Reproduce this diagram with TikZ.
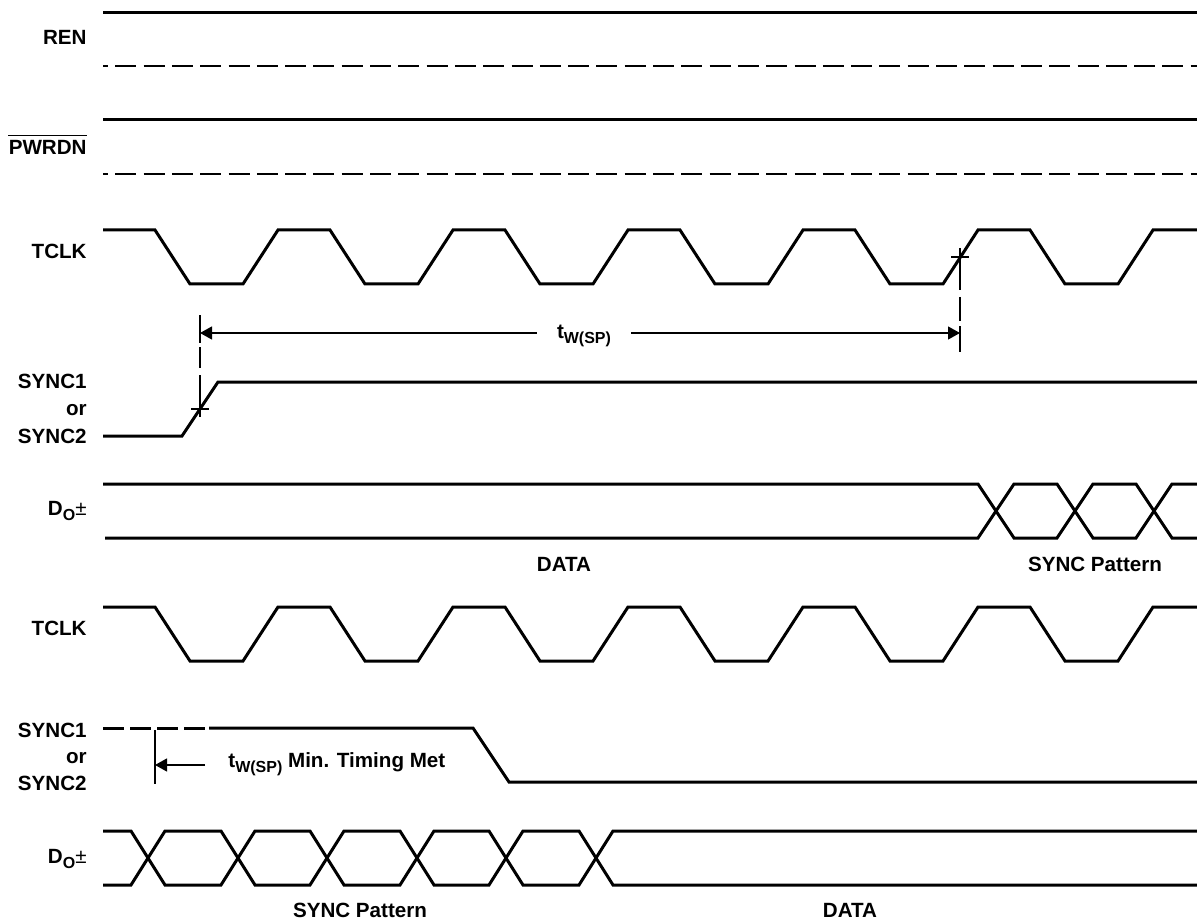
\documentclass[tikz,border=0pt]{standalone}
\usepackage{fontspec}
\setmainfont{Liberation Sans}
\usepackage{tikz}
\usetikzlibrary{arrows.meta}

\newcommand{\sigfont}{\bfseries\fontsize{10.3}{12}\selectfont}
\newcommand{\subtext}[1]{\raisebox{-2.5pt}{\fontsize{8}{9}\selectfont #1}}
\newcommand{\dopm}{D\subtext{O}{\mdseries\fontsize{10.3}{12}\selectfont ±}}

\begin{document}
\begin{tikzpicture}[x=0.5pt, y=-0.5pt,
    wave/.style={line width=1.5pt},
    level/.style={line width=1pt, dash pattern=on 10.5pt off 3.65pt, dash phase=8pt},
    dim/.style={line width=0.6pt},
    tip/.style={-{Triangle[length=6pt,width=6.5pt]}},
    sig/.style={anchor=base east, inner sep=0pt, font=\sigfont},
    note/.style={anchor=base, inner sep=0pt, font=\sigfont}]

    \useasboundingbox (0,0) rectangle (1197,919);

	% Signal names, right aligned against the waveforms
	\node[sig] (ren)     at (87,45)  {REN};
	\node[sig] (pwrdn)   at (87,155) {PWRDN};
	\node[sig] (tclkA)   at (87,259) {TCLK};
	\node[sig] (syncA1)  at (87,388) {SYNC1};
	\node[sig] (syncAor) at (87,415) {or};
	\node[sig] (syncA2)  at (87,443) {SYNC2};
	\node[sig] (doA)     at (87,515) {\dopm};
	\node[sig] (tclkB)   at (87,635) {TCLK};
	\node[sig] (syncB1)  at (87,737) {SYNC1};
	\node[sig] (syncBor) at (87,763) {or};
	\node[sig] (syncB2)  at (87,790) {SYNC2};
	\node[sig] (doB)     at (87,863) {\dopm};

	% active low bar
	\draw[dim] ([yshift=2.5pt]pwrdn.north west) -- ([yshift=2.5pt]pwrdn.north east);

	%%%%%%%%%%%%%%%%%%%%%%%%%%%%%%%%%%%%%%%%%%%%%%%%%%%%%%%%%%%%%%
	% REN and PWRDN: held high
	\draw[wave]  (103,13)  -- (1197,13);
	\draw[level] (103,66)  -- (1197,66);
	\draw[wave]  (103,120) -- (1197,120);
	\draw[level] (103,174) -- (1197,174);

	% TCLK, the same clock in both halves
	\foreach \y in {230,607}
	  \draw[wave] (103,\y) -- (155,\y)
	    \foreach \k in {1,...,5} { -- ++(35,54) -- ++(53,0) -- ++(35,-54) -- ++(52,0) }
	    -- ++(35,54) -- ++(53,0) -- ++(35,-54) -- (1197,\y);

	% SYNC goes high
	\draw[wave] (103,436) -- (182,436) -- (218,382) -- (1197,382);

	% Do: data, then sync pattern
	\draw[wave] (103,484) -- (978,484) -- (1014,538) -- (1057,538) -- (1093,484)
	            -- (1136,484) -- (1172,538) -- (1197,538);
	\draw[wave] (105,538) -- (978,538) -- (1014,484) -- (1057,484) -- (1093,538)
	            -- (1136,538) -- (1172,484) -- (1197,484);

	\node[note] (dataA) at (564,571)  {DATA};
	\node[note] (patA)  at (1095,571) {SYNC Pattern};

	% tw(SP) measured from SYNC edge to TCLK edge
	\coordinate (edgeA) at (200,409);
	\coordinate (edgeB) at (960,257);
	\draw[dim] ([xshift=-4.5pt]edgeA) -- ([xshift=4.5pt]edgeA);
	\draw[dim] ([xshift=-4.5pt]edgeB) -- ([xshift=4.5pt]edgeB);
	\draw[dim, dash pattern=on 14pt off 2pt on 10.5pt off 3.5pt on 21pt] (200,315) -- (200,417);
	\draw[dim, dash pattern=on 21pt off 3.5pt on 12pt off 2.5pt on 13pt] (960,248) -- (960,352);

	\coordinate (twL) at (200,333);
	\coordinate (twR) at (960,333);
	\node[note, inner xsep=10pt] (tw) at (584,338) {t\subtext{W(SP)}};
	\draw[dim, tip] (tw.west |- twL) -- (twL);
	\draw[dim, tip] (tw.east |- twR) -- (twR);

	%%%%%%%%%%%%%%%%%%%%%%%%%%%%%%%%%%%%%%%%%%%%%%%%%%%%%%%%%%%%%%
	% SYNC returns low
	\draw[wave, dash pattern=on 10.5pt off 3pt] (103,728) -- (209,728);
	\draw[wave] (209,728) -- (473,728) -- (509,782) -- (1197,782);

	\coordinate (minA) at (155,730);
	\coordinate (minB) at (155,784);
	\coordinate (minT) at (155,765);
	\coordinate (minS) at (205,765);
	\draw[dim] (minA) -- (minB);
	\draw[dim, tip] (minS) -- (minT);
	\node[note, anchor=base west] (twmin) at (228,767) {t\subtext{W(SP)} Min. Timing Met};

	% Do: sync pattern, then data
	\draw[wave] (103,831) -- (131,831) -- (165,885) -- (221,885) -- (255,831) -- (310,831)
	            -- (344,885) -- (400,885) -- (434,831) -- (489,831) -- (523,885) -- (579,885)
	            -- (613,831) -- (1197,831);
	\draw[wave] (103,885) -- (131,885) -- (165,831) -- (221,831) -- (255,885) -- (310,885)
	            -- (344,831) -- (400,831) -- (434,885) -- (489,885) -- (523,831) -- (579,831)
	            -- (613,885) -- (1197,885);

	\node[note] (patB)  at (360,917) {SYNC Pattern};
	\node[note] (dataB) at (850,917) {DATA};

\end{tikzpicture}
\end{document}
